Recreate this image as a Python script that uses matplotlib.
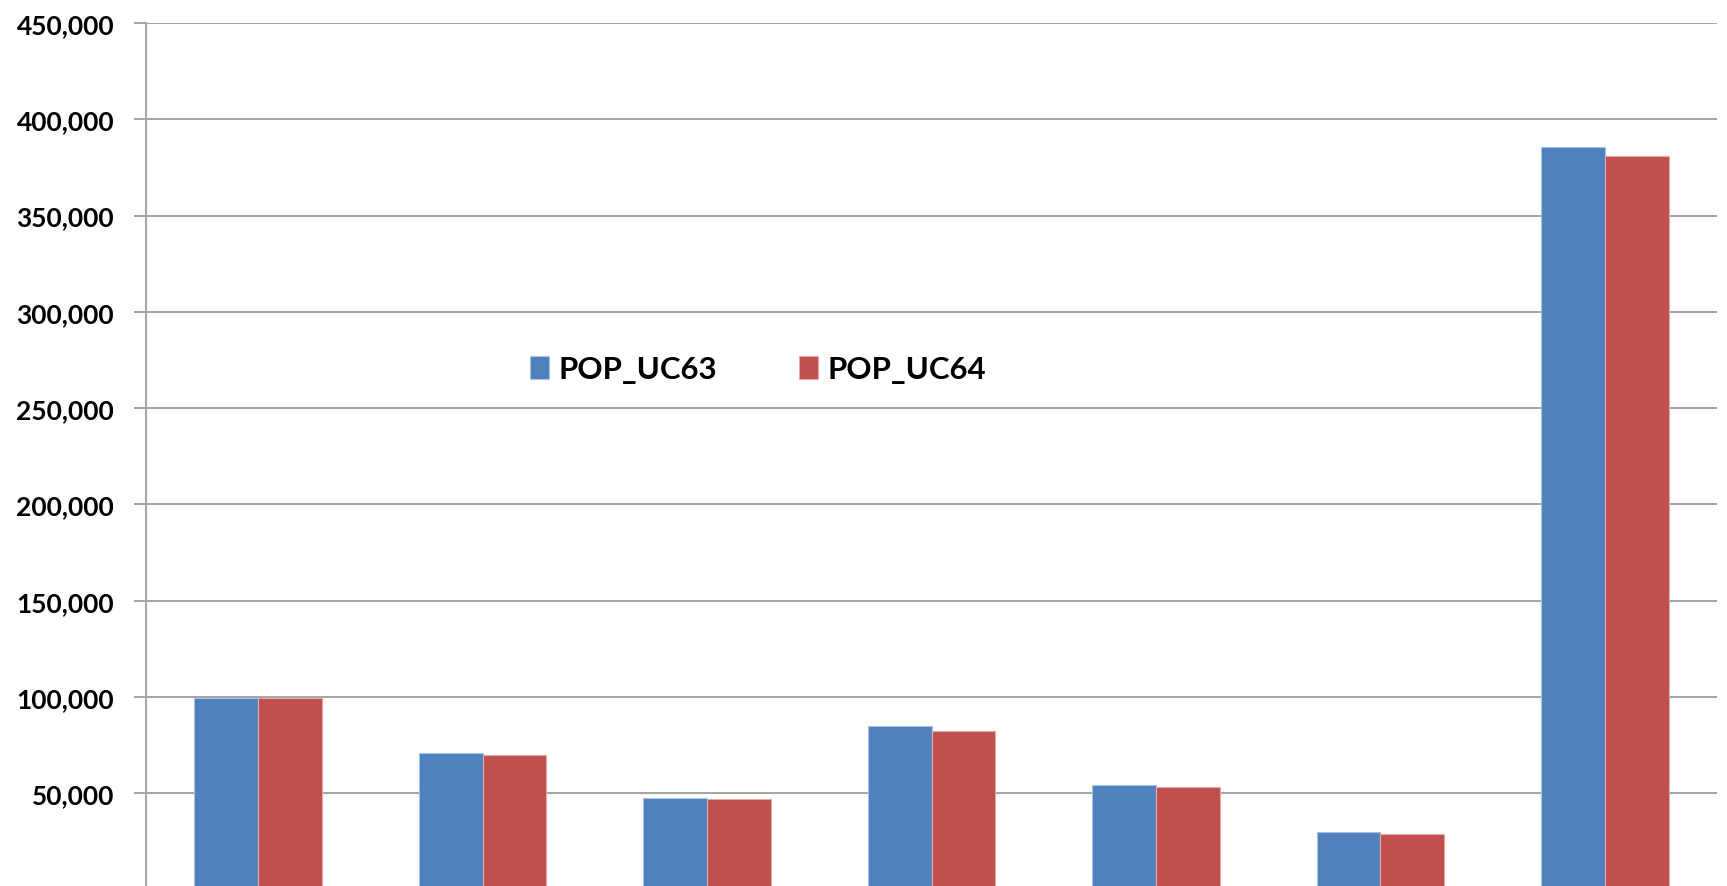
import matplotlib.pyplot as plt
import numpy as np
from matplotlib.ticker import FuncFormatter

# Values (bottom of the chart is cropped in the source)
categories = ['1', '2', '3', '4', '5', '6', '7']
pop_uc63 = [99600, 70800, 47700, 84800, 54200, 29800, 385500]
pop_uc64 = [99500, 69900, 47000, 82500, 53300, 28900, 380800]
series_names = ['POP_UC63', 'POP_UC64']
yticks = np.arange(50000, 450001, 50000)

blue = '#4F81BD'
red = '#C0504D'
grid_col = '#A6A6A6'

plt.rcParams['font.family'] = ['Lato', 'DejaVu Sans']

fig = plt.figure(figsize=(17.27, 8.87), dpi=100)
# axes run slightly past the bottom edge, as in the cropped original
ax = fig.add_axes([146 / 1727, -3.6 / 887, (1717 - 146) / 1727, 866.6 / 887])

x = np.arange(len(categories))
w = 0.284
ax.bar(x - w / 2, pop_uc63, w, color=blue, edgecolor='#A9C1E3', linewidth=0.8,
       label=series_names[0], zorder=3)
ax.bar(x + w / 2, pop_uc64, w, color=red, edgecolor='#E6A9A7', linewidth=0.8,
       label=series_names[1], zorder=3)

ax.set_xlim(-0.5, len(categories) - 0.5)
ax.set_ylim(0, 450000)
ax.set_yticks(yticks)
ax.yaxis.set_major_formatter(FuncFormatter(lambda v, p: f'{int(v):,}'))
# category labels sit below the cropped edge in the original
ax.set_xticks(x)
ax.set_xticklabels([])

ax.grid(axis='y', color=grid_col, linewidth=1.5, zorder=0)
for side in ['top', 'right', 'bottom']:
    ax.spines[side].set_visible(False)
ax.spines['left'].set_color(grid_col)
ax.spines['left'].set_linewidth(1.5)
ax.tick_params(axis='y', length=9, width=1.5, color=grid_col, pad=14,
               labelsize=19)
ax.tick_params(axis='x', length=0)
for t in ax.get_yticklabels():
    t.set_fontweight('bold')

leg = fig.legend(loc='center left', bbox_to_anchor=(530 / 1727, 1 - 370 / 887),
                 ncol=2, frameon=False, prop={'weight': 'bold', 'size': 22.5},
                 handlelength=0.62, handleheight=0.75, handletextpad=0.3,
                 columnspacing=2.6, borderpad=0, borderaxespad=0)

fig.savefig('out.png', dpi=100)
